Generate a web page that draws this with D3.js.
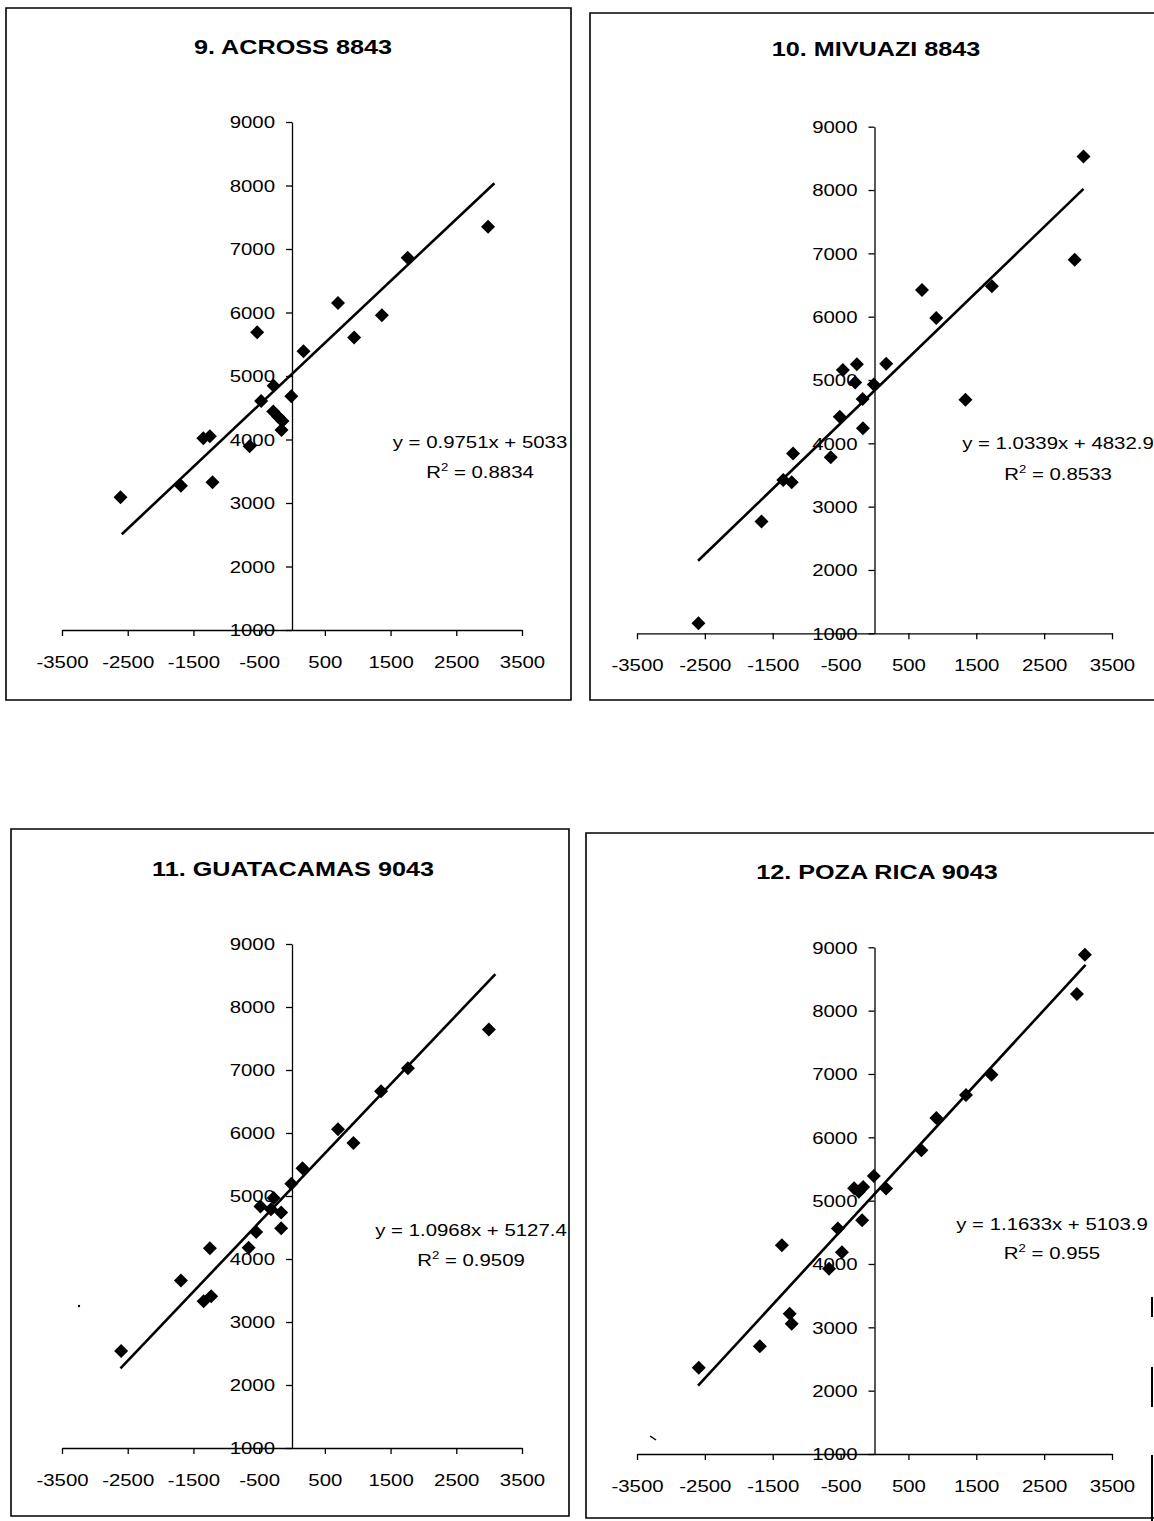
<!DOCTYPE html>
<html><head><meta charset="utf-8">
<script src="https://cdn.jsdelivr.net/npm/d3@7"></script>
<style>body{margin:0;background:#fff}svg{display:block}</style>
</head><body>
<svg id="c" width="1154" height="1521"></svg>
<script>
// ---------- data ----------
const titles = ["9. ACROSS 8843", "10. MIVUAZI 8843", "11. GUATACAMAS 9043", "12. POZA RICA 9043"];
const slopes = [0.9751, 1.0339, 1.0968, 1.1633];
const intercepts = [5033, 4832.9, 5127.4, 5103.9];
const r2Values = ["0.8834", "0.8533", "0.9509", "0.955"];
const trendFrom = [-2590, -2600, -2610, -2600];
const trendTo = [3080, 3080, 3095, 3110];
const xTicks = [-3500, -2500, -1500, -500, 500, 1500, 2500, 3500];
const yTicks = [1000, 2000, 3000, 4000, 5000, 6000, 7000, 8000, 9000];

const across_x = [-2610, -1690, -1350, -1250, -1210, -645, -530, -470, -280, -285, -210, -145, -160, -10, 175, 700, 945, 1368, 1760, 2984];
const across_y = [3090, 3270, 4020, 4050, 3326, 3895, 5688, 4608, 4845, 4440, 4360, 4290, 4150, 4680, 5390, 6150, 5605, 5955, 6862, 7349];

const mivuazi_x = [-2595, -1665, -1345, -1220, -1200, -645, -512, -466, -260, -285, -175, -170, -10, 172, 700, 910, 1340, 1730, 2950, 3080];
const mivuazi_y = [1160, 2765, 3420, 3385, 3840, 3780, 4420, 5158, 5250, 4960, 4700, 4237, 4930, 5258, 6420, 5980, 4690, 6480, 6900, 8530];

const guata_x = [-2600, -1690, -1345, -1230, -1250, -660, -545, -480, -280, -320, -165, -165, -10, 160, 700, 935, 1355, 1764, 2996];
const guata_y = [2540, 3660, 3330, 3410, 4170, 4180, 4430, 4835, 4970, 4790, 4740, 4490, 5195, 5440, 6060, 5840, 6664, 7029, 7642];

const poza_x = [-2590, -1690, -1365, -1250, -1220, -670, -540, -480, -300, -230, -167, -182, -10, 170, 691, 912, 1348, 1724, 2983, 3100];
const poza_y = [2360, 2700, 4297, 3215, 3055, 3925, 4560, 4185, 5195, 5140, 5215, 4690, 5390, 5192, 5794, 6304, 6668, 6989, 8264, 8883];

const seriesX = [across_x, mivuazi_x, guata_x, poza_x];
const seriesY = [across_y, mivuazi_y, guata_y, poza_y];

// ---------- layout ----------
const layout = [
  {frame: [6, 8, 571, 700], xr: [62, 522], yr: [630, 122], title: [293, 47], eq: [2861, 3967, 3494], right: true},
  {frame: [590, 13, 1160, 700], xr: [637, 1112], yr: [633.3, 126.7], title: [876, 49], eq: [2704, 3998, 3513], right: false},
  {frame: [11, 829, 569, 1516], xr: [62, 522], yr: [1448, 944], title: [293, 869], eq: [2724, 4452, 3978], right: true},
  {frame: [586, 833, 1160, 1518], xr: [637, 1112], yr: [1454, 947.3], title: [877, 872], eq: [2616, 4629, 4171], right: false}
];

const SX = 1.2;
const FONT = "'Liberation Sans', Arial, Helvetica, sans-serif";

const svg = d3.select("#c");
svg.append("rect").attr("width", 1154).attr("height", 1521).attr("fill", "#fff");

function stext(g, x, y, str, size, anchor, weight) {
  return g.append("text")
    .attr("transform", `translate(${x},${y}) scale(${SX},1)`)
    .attr("text-anchor", anchor)
    .attr("dy", "0.35em")
    .attr("font-family", FONT)
    .attr("font-size", size)
    .attr("font-weight", weight || "normal")
    .attr("fill", "#000")
    .text(str);
}

layout.forEach((L, i) => {
  const g = svg.append("g");
  const [fx0, fy0, fx1, fy1] = L.frame;
  const framePath = L.right
    ? `M${fx0},${fy0}H${fx1}V${fy1}H${fx0}Z`
    : `M${fx1},${fy0}H${fx0}V${fy1}H${fx1}`;
  g.append("path").attr("d", framePath).attr("fill", "none").attr("stroke", "#000").attr("stroke-width", 1.6);

  const x = d3.scaleLinear().domain([-3500, 3500]).range(L.xr);
  const y = d3.scaleLinear().domain([1000, 9000]).range(L.yr);

  stext(g, L.title[0], L.title[1], titles[i], 21, "middle", "bold");

  const xa = g.append("g").attr("transform", `translate(0,${y(1000)})`)
    .call(d3.axisBottom(x).tickValues(xTicks).tickSize(6).tickSizeOuter(0).tickFormat(d => String(d)));
  xa.select(".domain").attr("stroke", "#000").attr("stroke-width", 1.3);
  xa.selectAll(".tick line").attr("stroke", "#000").attr("stroke-width", 1.3);
  xa.selectAll(".tick text")
    .attr("y", 0).attr("dy", "0.35em")
    .attr("transform", `translate(0,32) scale(${SX},1)`)
    .attr("font-family", FONT).attr("font-size", 17).attr("fill", "#000");

  const ya = g.append("g").attr("transform", `translate(${x(0)},0)`)
    .call(d3.axisLeft(y).tickValues(yTicks).tickSize(6).tickSizeOuter(0).tickFormat(d => String(d)));
  ya.select(".domain").attr("stroke", "#000").attr("stroke-width", 1.3);
  ya.selectAll(".tick line").attr("stroke", "#000").attr("stroke-width", 1.3);
  ya.selectAll(".tick text")
    .attr("x", 0).attr("dy", "0.35em")
    .attr("transform", `translate(-17,0) scale(${SX},1)`)
    .attr("font-family", FONT).attr("font-size", 17).attr("fill", "#000");

  const tl = [trendFrom[i], trendTo[i]].map(v => [v, slopes[i] * v + intercepts[i]]);
  g.append("path")
    .attr("d", d3.line().x(d => x(d[0])).y(d => y(d[1]))(tl))
    .attr("fill", "none").attr("stroke", "#000").attr("stroke-width", 2.6);

  const pts = seriesX[i].map((v, k) => [v, seriesY[i][k]]);
  const sym = d3.symbol(d3.symbolSquare, 98);
  g.selectAll("path.pt").data(pts).join("path").attr("class", "pt")
    .attr("d", sym)
    .attr("transform", d => `translate(${x(d[0])},${y(d[1])}) rotate(45)`)
    .attr("fill", "#000");

  const cx = x(L.eq[0]);
  stext(g, cx, y(L.eq[1]), `y = ${slopes[i]}x + ${intercepts[i]}`, 17, "middle");
  const r = stext(g, cx, y(L.eq[2]), "", 17, "middle");
  r.append("tspan").text("R");
  r.append("tspan").attr("font-size", 11).attr("dy", -7).text("2");
  r.append("tspan").attr("dy", 7).text(" = " + r2Values[i]);
});

// scan remnants: broken right border of the last panel and small specks
const edge = svg.append("g").attr("stroke", "#000").attr("stroke-width", 2);
[[1297, 1317], [1367, 1407], [1455, 1521]].forEach(s =>
  edge.append("line").attr("x1", 1152).attr("x2", 1152).attr("y1", s[0]).attr("y2", s[1]));
svg.append("circle").attr("cx", 79).attr("cy", 1306).attr("r", 1.2).attr("fill", "#000");
svg.append("line").attr("x1", 650).attr("y1", 1436).attr("x2", 656).attr("y2", 1440)
  .attr("stroke", "#000").attr("stroke-width", 1.5);
</script>
</body></html>
